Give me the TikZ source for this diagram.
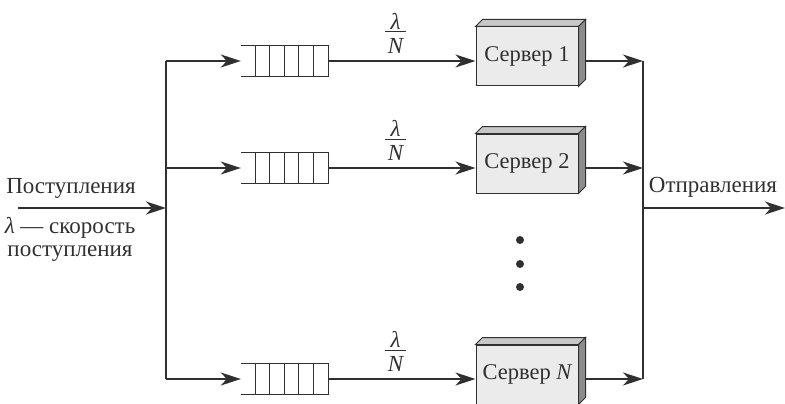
\documentclass[tikz,border=0pt]{standalone}
\usepackage{fontspec}
\setmainfont{Liberation Serif}
\usetikzlibrary{arrows.meta,calc}
\definecolor{ink}{HTML}{303030}
\tikzset{
  conn/.style={draw=ink,line width=1.5pt},
  arr/.style={conn,-{Stealth[length=20pt,width=13pt,inset=6pt]}},
  lbl/.style={font=\fontsize{23}{23}\selectfont,text=ink,inner sep=0pt},
  front/.style={draw=ink,line width=1pt,fill=black!8,minimum width=102pt,minimum height=59pt,inner sep=0pt,font=\fontsize{22.5}{23}\selectfont,text=ink},
  side/.style={draw=ink,line width=1pt,fill=black!45},
  topf/.style={draw=ink,line width=1pt,fill=black!22},
  qbox/.style={minimum width=87pt,minimum height=30pt,inner sep=0pt},
  qline/.style={draw=ink,line width=1.1pt},
  dot/.style={circle,fill=ink,minimum size=8pt,inner sep=0pt}
}
\begin{document}
\begin{tikzpicture}[x=1pt,y=-1pt]
\useasboundingbox (0,0) rectangle (785,404);
\foreach \r/\y/\lab in {1/61/1,2/168/2,3/379/{\itshape N}}{
  % queue
  \node[qbox] (q\r) at (284.5,\y) {};
  \draw[qline] (q\r.north west) -- (q\r.north east) -- (q\r.south east) -- (q\r.south west);
  \foreach \k in {1,...,5}{
    \draw[qline] ($(q\r.north west)+(14.5*\k,0)$) -- ($(q\r.south west)+(14.5*\k,0)$);
  }
  % server
  \node[front] (s\r) at (527,\y-4.5) {Сервер \lab};
  \draw[topf] (s\r.north west) -- ++(7,-7) -- ($(s\r.north east)+(7,-7)$) -- (s\r.north east) -- cycle;
  \draw[side] (s\r.north east) -- ++(7,-7) -- ($(s\r.south east)+(7,-7)$) -- (s\r.south east) -- cycle;
  % bus points
  \coordinate (L\r) at (166,\y);
  \coordinate (R\r) at (643,\y);
  \coordinate (o\r) at ($(s\r.east |- q\r.east)+(7,0)$);
  % fraction label
  \node[lbl,font=\fontsize{23}{23}\selectfont\itshape] (lam\r) at (395.5,\y-40) {λ};
  \node[lbl,font=\fontsize{23}{23}\selectfont\itshape] (n\r) at (395.5,\y-15) {N};
  \coordinate (fa\r) at (385,\y-29);
  \coordinate (fb\r) at (406,\y-29);
  \draw[draw=ink,line width=1pt] (fa\r) -- (fb\r);
  % connectors
  \draw[arr] (L\r) -- (q\r.west);
  \draw[arr] (q\r.east) -- (s\r.west |- q\r.east);
  \draw[arr] (o\r) -- (R\r);
}
\draw[conn] (L1) -- (L3);
\draw[conn] (R1) -- (R3);
\coordinate (in) at (18,208);
\coordinate (J) at (166,208);
\coordinate (K) at (643,208);
\coordinate (out) at (785,208);
\draw[arr] (in) -- (J);
\draw[arr] (K) -- (out);
\node[lbl] (arrive) at (71,188) {Поступления};
\node[lbl,align=center] (rate) at (70,239) {{\itshape λ} — скорость\\поступления};
\node[lbl] (depart) at (713,187) {Отправления};
\node[dot] (d1) at (520,240) {};
\node[dot] (d2) at (520,264) {};
\node[dot] (d3) at (520,287) {};
\end{tikzpicture}
\end{document}
